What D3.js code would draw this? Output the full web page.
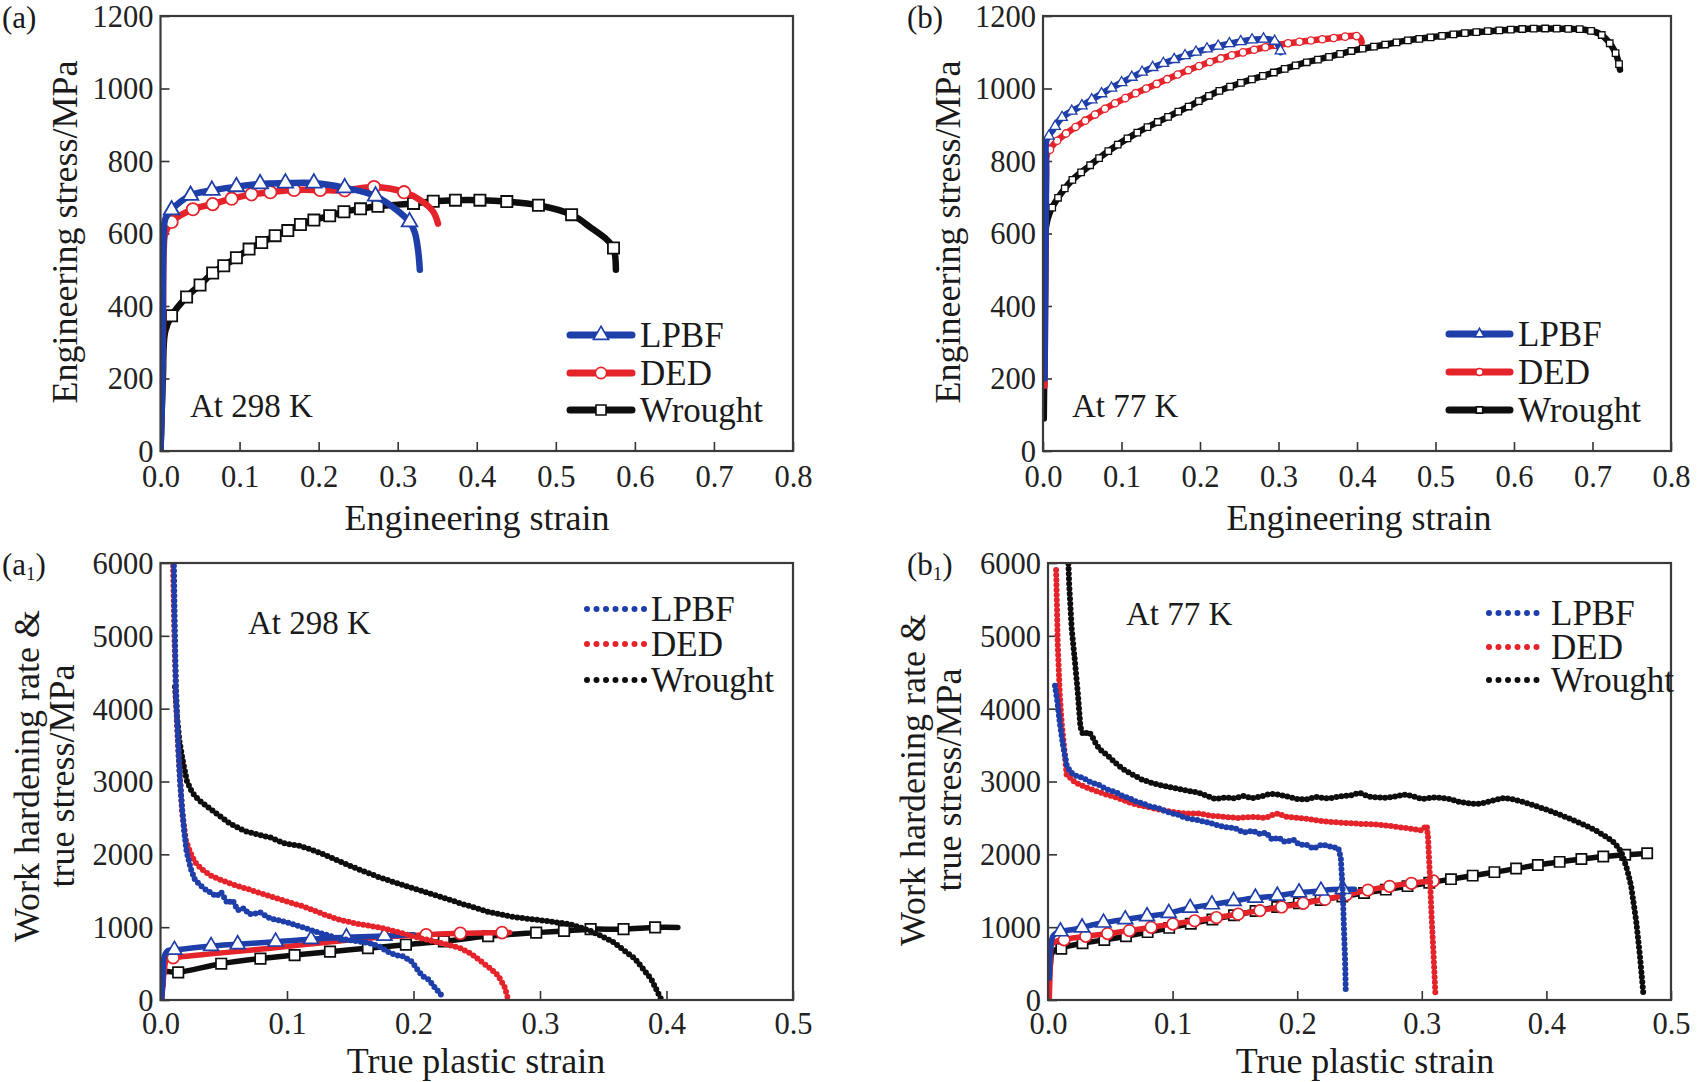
<!DOCTYPE html>
<html><head><meta charset="utf-8">
<script src="https://cdn.jsdelivr.net/npm/d3@7"></script>
<style>
html,body{margin:0;padding:0;background:#fff;}
svg{display:block;}
</style></head><body>
<svg id="chart" width="1701" height="1082"></svg>
<script>
// ---------------- DATA ----------------
const seriesNames = ["LPBF", "DED", "Wrought"];
const engStrainTicks = [0, 0.1, 0.2, 0.3, 0.4, 0.5, 0.6, 0.7, 0.8];
const engStressTicks = [0, 200, 400, 600, 800, 1000, 1200];
const plasticStrainTicks = [0, 0.1, 0.2, 0.3, 0.4, 0.5];
const hardeningTicks = [0, 1000, 2000, 3000, 4000, 5000, 6000];

// (a) engineering stress-strain at 298 K  [strain, MPa]
const a_LPBF = [[0,0],[0.002,150],[0.003,400],[0.004,580],[0.006,640],[0.014,665],[0.038,705],[0.065,719],[0.096,729],[0.126,737],[0.158,739],[0.194,739],[0.233,726],[0.272,703],[0.315,632],[0.322,600],[0.326,550],[0.328,500]];
const a_DED = [[0,0],[0.003,300],[0.004,550],[0.006,600],[0.014,632],[0.041,667],[0.066,681],[0.09,696],[0.115,708],[0.139,714],[0.169,720],[0.202,720],[0.233,719],[0.27,728],[0.308,714],[0.33,690],[0.345,660],[0.351,627]];
const a_Wrought = [[0,0],[0.003,200],[0.006,330],[0.014,373],[0.033,425],[0.05,458],[0.066,491],[0.08,511],[0.096,533],[0.112,557],[0.128,575],[0.145,594],[0.161,608],[0.177,625],[0.194,637],[0.214,649],[0.232,660],[0.253,668],[0.275,675],[0.32,683],[0.345,689],[0.373,692],[0.404,692],[0.438,688],[0.478,678],[0.52,652],[0.545,615],[0.565,582],[0.573,560],[0.576,500]];

// (b) engineering stress-strain at 77 K
const b_LPBF = [[0.002,200],[0.003,500],[0.004,780],[0.0044,858],[0.013,887],[0.024,920],[0.05,953],[0.078,990],[0.098,1014],[0.133,1052],[0.167,1080],[0.2,1104],[0.236,1123],[0.27,1135],[0.29,1135],[0.298,1125],[0.303,1100]];
const b_DED = [[0.002,180],[0.003,500],[0.004,760],[0.0055,821],[0.019,858],[0.043,896],[0.078,943],[0.112,981],[0.146,1014],[0.181,1047],[0.222,1080],[0.263,1104],[0.298,1120],[0.339,1132],[0.374,1140],[0.398,1145],[0.404,1140],[0.406,1128]];
const b_Wrought = [[0.001,90],[0.002,300],[0.003,550],[0.004,620],[0.009,660],[0.019,698],[0.036,745],[0.057,783],[0.085,830],[0.119,877],[0.153,915],[0.188,953],[0.222,991],[0.257,1019],[0.291,1042],[0.325,1066],[0.36,1085],[0.394,1104],[0.428,1118],[0.463,1132],[0.497,1142],[0.538,1153],[0.58,1160],[0.621,1165],[0.662,1165],[0.69,1162],[0.71,1150],[0.72,1130],[0.728,1104],[0.733,1075],[0.735,1052]];

// (a1) work hardening rate at 298 K  [true plastic strain, MPa]
const a1_rate_LPBF = [[0.0105,6100],[0.0112,5200],[0.012,4412],[0.013,3900],[0.014,3500],[0.0155,2988],[0.017,2650],[0.0185,2350],[0.0206,2040],[0.024,1800],[0.027,1660],[0.031,1580],[0.0356,1518],[0.04,1470],[0.044,1423],[0.048,1480],[0.053,1328],[0.057,1370],[0.061,1233],[0.066,1260],[0.07,1180],[0.074,1186],[0.079,1200],[0.087,1115],[0.095,1090],[0.104,1044],[0.112,1000],[0.121,949],[0.13,900],[0.139,854],[0.147,830],[0.156,806],[0.165,780],[0.173,735],[0.18,660],[0.186,617],[0.192,600],[0.199,522],[0.203,420],[0.207,332],[0.212,280],[0.216,190],[0.22,110],[0.224,24]];
const a1_rate_DED = [[0.0098,6100],[0.011,5000],[0.012,4400],[0.013,3800],[0.0145,3300],[0.016,2900],[0.017,2600],[0.0185,2400],[0.02,2200],[0.023,2050],[0.027,1897],[0.033,1790],[0.04,1708],[0.046,1660],[0.053,1613],[0.06,1570],[0.07,1518],[0.078,1470],[0.087,1423],[0.095,1380],[0.104,1328],[0.112,1290],[0.121,1233],[0.13,1170],[0.139,1115],[0.147,1080],[0.156,1044],[0.165,1020],[0.173,996],[0.184,950],[0.194,901],[0.205,850],[0.216,806],[0.227,760],[0.237,711],[0.246,630],[0.254,522],[0.261,430],[0.267,332],[0.272,180],[0.275,0]];
const a1_rate_Wrought = [[0.0115,4300],[0.013,3900],[0.015,3550],[0.018,3250],[0.021,3000],[0.025,2850],[0.03,2750],[0.044,2562],[0.055,2420],[0.066,2324],[0.077,2270],[0.087,2230],[0.098,2150],[0.109,2120],[0.12,2060],[0.13,1992],[0.152,1826],[0.173,1684],[0.194,1565],[0.216,1447],[0.237,1328],[0.259,1210],[0.28,1138],[0.302,1091],[0.323,1044],[0.34,949],[0.357,806],[0.375,569],[0.388,285],[0.396,0]];
// (a1) true stress at 298 K
const a1_stress_LPBF = [[0.001,0],[0.002,300],[0.003,600],[0.006,680],[0.011,688],[0.04,740],[0.061,765],[0.091,800],[0.119,835],[0.147,860],[0.177,880],[0.2,895]];
const a1_stress_DED = [[0.001,0],[0.003,400],[0.005,560],[0.01,580],[0.044,640],[0.087,711],[0.13,790],[0.173,860],[0.21,895],[0.237,915],[0.27,925],[0.276,928]];
const a1_stress_Wrought = [[0.002,200],[0.003,380],[0.014,380],[0.048,498],[0.079,569],[0.106,617],[0.134,664],[0.164,711],[0.194,759],[0.224,806],[0.259,877],[0.297,925],[0.319,949],[0.34,972],[0.366,972],[0.391,996],[0.409,996]];

// (b1) work hardening rate at 77 K
const b1_rate_LPBF = [[0.0056,4316],[0.0075,4100],[0.0095,3800],[0.012,3500],[0.015,3226],[0.018,3130],[0.0216,3084],[0.028,3050],[0.0345,2988],[0.04,2960],[0.047,2894],[0.055,2850],[0.06,2800],[0.065,2775],[0.07,2730],[0.076,2700],[0.082,2656],[0.088,2640],[0.093,2600],[0.099,2562],[0.105,2540],[0.11,2500],[0.121,2467],[0.13,2430],[0.142,2372],[0.15,2360],[0.157,2300],[0.164,2324],[0.17,2280],[0.175,2300],[0.18,2200],[0.185,2230],[0.19,2170],[0.197,2200],[0.202,2130],[0.207,2135],[0.213,2080],[0.22,2135],[0.228,2100],[0.233,2087],[0.235,1950],[0.2365,1500],[0.2375,1000],[0.2385,500],[0.239,95]];
const b1_rate_DED = [[0.0065,5905],[0.0072,5400],[0.0078,4885],[0.0095,4174],[0.011,3800],[0.013,3463],[0.015,3084],[0.018,3050],[0.0216,2988],[0.028,2940],[0.0345,2894],[0.045,2830],[0.056,2775],[0.067,2700],[0.078,2656],[0.088,2620],[0.099,2585],[0.11,2560],[0.121,2562],[0.13,2530],[0.142,2514],[0.153,2500],[0.164,2514],[0.175,2500],[0.18,2540],[0.185,2562],[0.19,2520],[0.2,2500],[0.207,2490],[0.218,2460],[0.228,2443],[0.24,2430],[0.25,2419],[0.262,2410],[0.272,2396],[0.283,2370],[0.293,2348],[0.3,2330],[0.304,2396],[0.305,2230],[0.3065,1700],[0.308,1091],[0.3095,600],[0.311,47]];
const b1_rate_Wrought = [[0.0155,6400],[0.017,5700],[0.019,5100],[0.0216,4648],[0.024,4200],[0.026,3750],[0.028,3650],[0.033,3680],[0.036,3600],[0.039,3500],[0.043,3420],[0.047,3369],[0.052,3290],[0.056,3226],[0.062,3150],[0.069,3084],[0.075,3030],[0.082,2988],[0.09,2950],[0.099,2917],[0.11,2880],[0.121,2846],[0.128,2800],[0.134,2760],[0.142,2780],[0.15,2770],[0.157,2800],[0.164,2770],[0.172,2800],[0.178,2830],[0.185,2822],[0.193,2790],[0.2,2760],[0.207,2751],[0.215,2790],[0.222,2770],[0.228,2775],[0.236,2800],[0.243,2810],[0.25,2846],[0.258,2790],[0.265,2780],[0.272,2775],[0.28,2800],[0.286,2820],[0.293,2798],[0.3,2760],[0.308,2780],[0.315,2775],[0.322,2760],[0.33,2720],[0.336,2704],[0.343,2690],[0.349,2704],[0.357,2740],[0.366,2775],[0.375,2750],[0.384,2704],[0.392,2660],[0.401,2609],[0.41,2550],[0.422,2467],[0.431,2400],[0.44,2324],[0.447,2250],[0.453,2182],[0.458,2090],[0.461,1992],[0.465,1780],[0.468,1565],[0.472,1091],[0.475,617],[0.478,47]];
// (b1) true stress at 77 K
const b1_stress_LPBF = [[0.001,300],[0.002,700],[0.004,880],[0.008,930],[0.0216,972],[0.039,1044],[0.056,1091],[0.075,1139],[0.095,1186],[0.112,1257],[0.129,1305],[0.147,1352],[0.164,1399],[0.181,1423],[0.198,1470],[0.216,1494],[0.228,1518],[0.246,1520]];
const b1_stress_DED = [[0.001,0],[0.002,500],[0.003,760],[0.006,800],[0.0216,854],[0.056,930],[0.099,1040],[0.142,1150],[0.185,1270],[0.228,1400],[0.254,1500],[0.272,1555],[0.293,1605],[0.31,1636]];
const b1_stress_Wrought = [[0.001,300],[0.002,500],[0.004,664],[0.0216,759],[0.056,854],[0.099,996],[0.142,1138],[0.185,1281],[0.228,1399],[0.272,1518],[0.315,1636],[0.358,1755],[0.401,1873],[0.444,1968],[0.483,2016]];

// ---------------- STYLE / LAYOUT ----------------
const COLOR = {LPBF: "#1e3ea9", DED: "#e5232b", Wrought: "#0e0e0e"};
const SHAPE = {LPBF: d3.symbolTriangle, DED: d3.symbolCircle, Wrought: d3.symbolSquare};
const FONT = '"Liberation Serif","Times New Roman",Times,serif';
const svg = d3.select("#chart");

function makePanel(o) {
  const x = d3.scaleLinear().domain(o.xDomain).range([o.left, o.right]);
  const y = d3.scaleLinear().domain(o.yDomain).range([o.bottom, o.top]);
  const g = svg.append("g");
  svg.append("clipPath").attr("id", "clip-" + o.id).append("rect")
    .attr("x", o.left).attr("y", o.top).attr("width", o.right - o.left).attr("height", o.bottom - o.top);
  const xa = g.append("g").attr("transform", `translate(0,${o.bottom})`)
    .call(d3.axisBottom(x).tickValues(o.xTicks).tickFormat(d3.format(".1f")).tickSizeInner(-9).tickSizeOuter(0).tickPadding(o.xPad));
  const ya = g.append("g").attr("transform", `translate(${o.left},0)`)
    .call(d3.axisLeft(y).tickValues(o.yTicks).tickFormat(d3.format("d")).tickSizeInner(-9).tickSizeOuter(0).tickPadding(7));
  [xa, ya].forEach(a => {
    a.select(".domain").remove();
    a.selectAll("line").attr("stroke", "#333").attr("stroke-width", 1.6);
    a.selectAll("text").attr("font-family", FONT).attr("font-size", 30.5).attr("fill", "#222");
  });
  ya.selectAll("text").attr("dy", "0.34em");
  const plot = g.append("g").attr("clip-path", `url(#clip-${o.id})`);
  return {x, y, g, plot, o};
}
function frame(P) {
  const o = P.o;
  P.g.append("rect").attr("x", o.left).attr("y", o.top).attr("width", o.right - o.left).attr("height", o.bottom - o.top)
    .attr("fill", "none").attr("stroke", "#3a3a3a").attr("stroke-width", 2.2);
}
function lineGen(P, smooth) {
  const l = d3.line().x(d => P.x(d[0])).y(d => P.y(d[1]));
  return smooth ? l.curve(d3.curveCatmullRom.alpha(0.5)) : l;
}
function solid(P, pts, name, w) {
  P.plot.append("path").attr("d", lineGen(P, true)(pts)).attr("fill", "none")
    .attr("stroke", COLOR[name]).attr("stroke-width", w).attr("stroke-linejoin", "round").attr("stroke-linecap", "round");
}
function dotted(P, pts, name) {
  P.plot.append("path").attr("d", lineGen(P, false)(pts)).attr("fill", "none")
    .attr("stroke", COLOR[name]).attr("stroke-width", 6).attr("stroke-linecap", "round")
    .attr("stroke-linejoin", "round").attr("stroke-dasharray", "0 5");
}
function markersAt(P, pts, name, size, sw) {
  P.plot.selectAll(null).data(pts).join("path")
    .attr("transform", d => `translate(${P.x(d[0])},${P.y(d[1])})`)
    .attr("d", d3.symbol().type(SHAPE[name]).size(size))
    .attr("fill", "#fff").attr("stroke", COLOR[name]).attr("stroke-width", sw);
}
function markersAlong(P, pts, name, spacing, size, sw) {
  const tmp = P.plot.append("path").attr("d", lineGen(P, true)(pts)).attr("fill", "none");
  const node = tmp.node();
  const L = node.getTotalLength();
  const pos = d3.range(spacing * 0.4, L, spacing).map(l => node.getPointAtLength(l));
  tmp.remove();
  P.plot.selectAll(null).data(pos).join("path")
    .attr("transform", p => `translate(${p.x},${p.y})`)
    .attr("d", d3.symbol().type(SHAPE[name]).size(size))
    .attr("fill", "#fff").attr("stroke", COLOR[name]).attr("stroke-width", sw);
}
function txt(x, y, s, size, anchor, rot) {
  const t = svg.append("text").attr("font-family", FONT).attr("font-size", size).attr("fill", "#1a1a1a")
    .attr("text-anchor", anchor || "start").text(s);
  if (rot) t.attr("transform", `translate(${x},${y}) rotate(${rot})`); else t.attr("x", x).attr("y", y);
  return t;
}
function panelLabel(x, y, letter, sub) {
  const t = svg.append("text").attr("font-family", FONT).attr("font-size", 31).attr("fill", "#1a1a1a").attr("x", x).attr("y", y);
  t.append("tspan").text("(" + letter);
  if (sub) t.append("tspan").attr("font-size", 19).attr("dy", 5).text(sub);
  t.append("tspan").attr("dy", sub ? -5 : 0).text(")");
}
function legendSolid(x0, x1, rows, xt, markSize, lw) {
  seriesNames.forEach((n, i) => {
    const yy = rows[i];
    svg.append("line").attr("x1", x0).attr("x2", x1).attr("y1", yy).attr("y2", yy)
      .attr("stroke", COLOR[n]).attr("stroke-width", lw).attr("stroke-linecap", "round");
    svg.append("path").attr("transform", `translate(${(x0 + x1) / 2},${yy})`)
      .attr("d", d3.symbol().type(SHAPE[n]).size(markSize)).attr("fill", "#fff").attr("stroke", COLOR[n]).attr("stroke-width", 1.6);
    txt(xt, yy + 12, n, 35);
  });
}
function legendDotted(x0, x1, rows, xt) {
  seriesNames.forEach((n, i) => {
    const yy = rows[i];
    svg.append("line").attr("x1", x0).attr("x2", x1).attr("y1", yy).attr("y2", yy)
      .attr("stroke", COLOR[n]).attr("stroke-width", 6).attr("stroke-linecap", "round").attr("stroke-dasharray", "0 9.5");
    txt(xt, yy + 12, n, 35);
  });
}

// ---------------- PANEL (a) ----------------
const PA = makePanel({id: "a", left: 160.5, right: 793, top: 16, bottom: 451, xDomain: [0, 0.8], yDomain: [0, 1200], xTicks: engStrainTicks, yTicks: engStressTicks, xPad: 14});
const aSeries = {Wrought: a_Wrought, DED: a_DED, LPBF: a_LPBF};
const aMarks = {Wrought: d3.range(3, 26).concat([28]), DED: d3.range(4, 15), LPBF: d3.range(5, 15)};
["Wrought", "DED", "LPBF"].forEach(n => {
  solid(PA, aSeries[n], n, 6.5);
  markersAt(PA, aMarks[n].map(i => aSeries[n][i]), n, n === "DED" ? 120 : (n === "LPBF" ? 105 : 125), 1.8);
});
frame(PA);

// ---------------- PANEL (b) ----------------
const PB = makePanel({id: "b", left: 1043, right: 1671, top: 16, bottom: 451, xDomain: [0, 0.8], yDomain: [0, 1200], xTicks: engStrainTicks, yTicks: engStressTicks, xPad: 14});
const bSeries = {Wrought: b_Wrought, DED: b_DED, LPBF: b_LPBF};
const bFrom = {Wrought: 4, DED: 3, LPBF: 3};
["Wrought", "DED", "LPBF"].forEach(n => {
  solid(PB, bSeries[n], n, 6.5);
  markersAlong(PB, bSeries[n].slice(bFrom[n]), n, 11.5, n === "LPBF" ? 48 : 42, 1.3);
});
frame(PB);

// ---------------- PANEL (a1) ----------------
const PA1 = makePanel({id: "a1", left: 160.5, right: 793, top: 563, bottom: 1000, xDomain: [0, 0.5], yDomain: [0, 6000], xTicks: plasticStrainTicks, yTicks: hardeningTicks, xPad: 12});
const a1Stress = {Wrought: a1_stress_Wrought, DED: a1_stress_DED, LPBF: a1_stress_LPBF};
const a1Marks = {Wrought: d3.range(2, 16), DED: [3, 8, 9, 10], LPBF: d3.range(4, 11)};
const a1Rate = {Wrought: a1_rate_Wrought, DED: a1_rate_DED, LPBF: a1_rate_LPBF};
["Wrought", "DED", "LPBF"].forEach(n => {
  solid(PA1, a1Stress[n], n, 5.5);
  markersAt(PA1, a1Marks[n].map(i => a1Stress[n][i]), n, n === "LPBF" ? 95 : 110, 1.7);
});
["Wrought", "DED", "LPBF"].forEach(n => dotted(PA1, a1Rate[n], n));
frame(PA1);

// ---------------- PANEL (b1) ----------------
const PB1 = makePanel({id: "b1", left: 1048, right: 1671, top: 563, bottom: 1000, xDomain: [0, 0.5], yDomain: [0, 6000], xTicks: plasticStrainTicks, yTicks: hardeningTicks, xPad: 12});
const b1Stress = {Wrought: b1_stress_Wrought, DED: b1_stress_DED, LPBF: b1_stress_LPBF};
const b1From = {Wrought: 2, DED: 3, LPBF: 2};
const b1Rate = {Wrought: b1_rate_Wrought, DED: b1_rate_DED, LPBF: b1_rate_LPBF};
["Wrought", "DED", "LPBF"].forEach(n => {
  solid(PB1, b1Stress[n], n, 5.5);
  markersAlong(PB1, b1Stress[n].slice(b1From[n]), n, 22, n === "LPBF" ? 95 : 105, 1.7);
});
["Wrought", "DED", "LPBF"].forEach(n => dotted(PB1, b1Rate[n], n));
frame(PB1);

// ---------------- TEXT ----------------
panelLabel(2, 28, "a");
panelLabel(907, 28, "b");
panelLabel(2, 575, "a", "1");
panelLabel(907, 575, "b", "1");

txt(77, 232, "Engineering stress/MPa", 36, "middle", -90);
txt(960, 232, "Engineering stress/MPa", 36, "middle", -90);
txt(39, 776, "Work hardening rate &", 36, "middle", -90);
txt(74, 776, "true stress/MPa", 36, "middle", -90);
txt(925, 780, "Work hardening rate &", 36, "middle", -90);
txt(961, 780, "true stress/MPa", 36, "middle", -90);

txt(477, 530, "Engineering strain", 36, "middle");
txt(1359, 530, "Engineering strain", 36, "middle");
txt(476, 1073, "True plastic strain", 36, "middle");
txt(1365, 1073, "True plastic strain", 36, "middle");

txt(190, 417, "At 298 K", 33);
txt(1072, 417, "At 77 K", 33);
txt(248, 634, "At 298 K", 33);
txt(1126, 625, "At 77 K", 33);

legendSolid(570, 632, [335, 373, 410], 640, 100, 7);
legendSolid(1449, 1510, [334, 372, 410], 1518, 40, 7);
legendDotted(587, 645, [609, 644, 680], 651);
legendDotted(1489, 1546, [613, 647, 680], 1551);
</script>
</body></html>
